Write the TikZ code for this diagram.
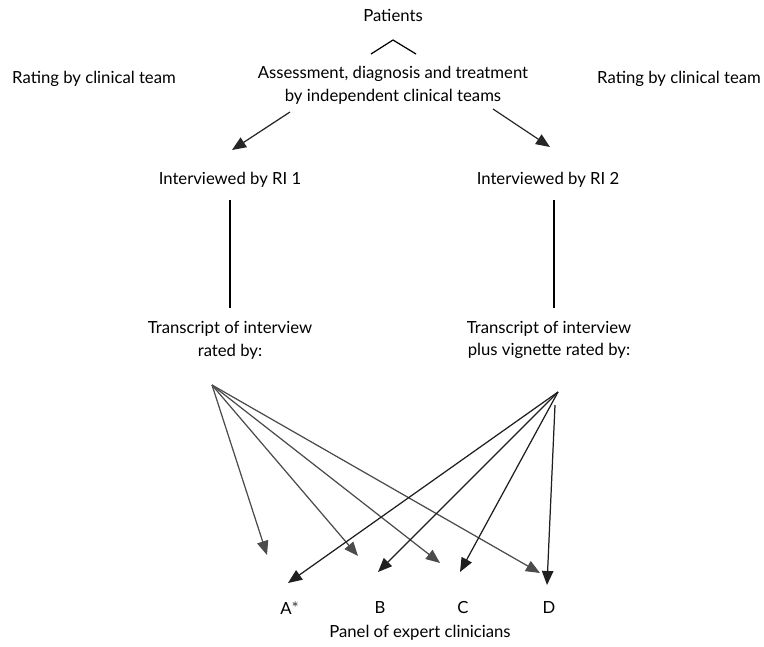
\documentclass[tikz,border=0pt]{standalone}
\usepackage{fontspec}
\setmainfont{Lato}
\usetikzlibrary{arrows.meta}
\tikzset{
txt/.style={
inner sep=0pt,
align=center,
font=\fontsize{9.5}{13}\selectfont
},
arrow/.style={
-{Triangle[length=8pt,width=6.5pt]},
line width=0.7pt
},
fanl/.style={
arrow,
draw=black!70,
fill=black!70
},
fanr/.style={
arrow,
draw=black!88,
fill=black!88
},
stem/.style={
line width=1.2pt
}
}
\begin{document}
\begin{tikzpicture}[x=0.02cm,y=-0.02cm]
\useasboundingbox (0,0) rectangle (764,646);
\node[txt](pat) at (393,15){Patients};
\node[txt](ass) at (393,85){Assessment, diagnosis and treatment\\by independent clinical teams};
\node[txt](rl) at (94,79){Rating by clinical team};
\node[txt](rr) at (679,79){Rating by clinical team};
\node[txt](ri1) at (230,180){Interviewed by RI 1};
\node[txt](ri2) at (548,180){Interviewed by RI 2};
\node[txt](tr1) at (230,340){Transcript of interview\\rated by:};
\node[txt](tr2) at (549,340){Transcript of interview\\plus vignette rated by:};
\node[txt](a) at (290,608){A$^{*}$};
\node[txt](b) at (380,608){B};
\node[txt](c) at (463,608){C};
\node[txt](d) at (549,608){D};
\node[txt](pan) at (420,633){Panel of expert clinicians};

% caret under patients
\draw[line width=0.7pt] (371,54) -- (393,40) -- (416,54);

% to the two interviewers
\coordinate (sl) at (290,112);
\coordinate (tl) at (232,150);
\coordinate (sr) at (493,109);
\coordinate (tr) at (550,147);
\draw[arrow,draw=black!85,fill=black!85] (sl) -- (tl);
\draw[arrow,draw=black!85,fill=black!85] (sr) -- (tr);

% stems
\draw[stem] (230,200) -- (230,308);
\draw[stem] (554,200) -- (554,308);

% left fan
\coordinate (fl) at (212,385);
\coordinate (la) at (267,555);
\coordinate (lb) at (358,556);
\coordinate (lc) at (440,563);
\coordinate (ld) at (540,573);
\foreach \t in {la,lb,lc,ld}
\draw[fanl] (fl) -- (\t);

% right fan
\coordinate (fr) at (558,392);
\coordinate (ra) at (288,583);
\coordinate (rb) at (378,572);
\coordinate (rc) at (460,572);
\coordinate (fd) at (555,405);
\coordinate (rd) at (547,585);
\foreach \t in {ra,rb,rc}
\draw[fanr] (fr) -- (\t);
\draw[fanr] (fd) -- (rd);
\end{tikzpicture}
\end{document}
